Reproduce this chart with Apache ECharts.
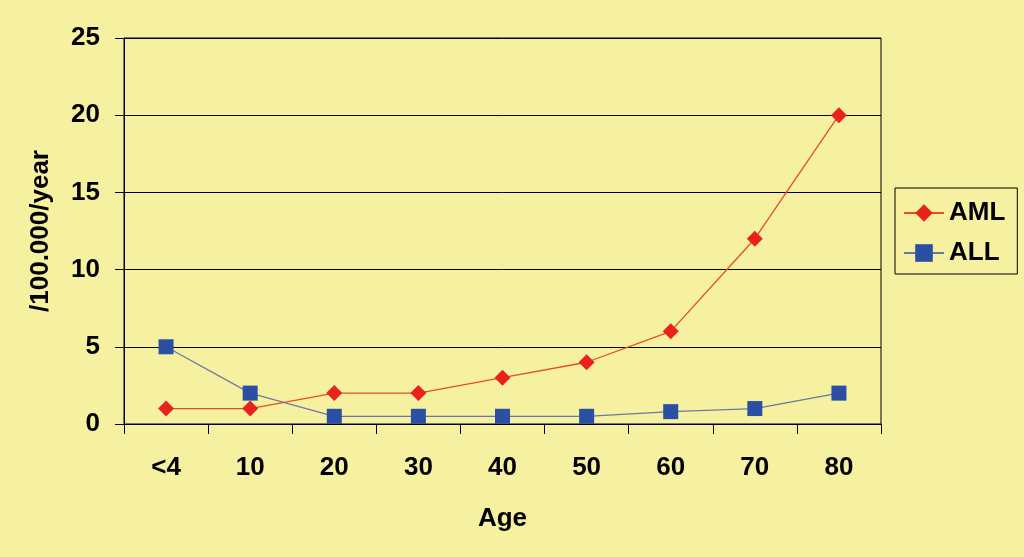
<!DOCTYPE html>
<html><head><meta charset="utf-8">
<script src="https://cdn.jsdelivr.net/npm/echarts@6/dist/echarts.min.js"></script>
<style>html,body{margin:0;padding:0;background:#F6F1A0;}#c{width:1024px;height:557px;}</style>
</head><body><div id="c"></div>
<script>
const categories = ['<4','10','20','30','40','50','60','70','80'];
const amlValues = [1, 1, 2, 2, 3, 4, 6, 12, 20];
const allValues = [5, 2, 0.5, 0.5, 0.5, 0.5, 0.8, 1, 2];
const yTicks = [0, 5, 10, 15, 20, 25];

const font = 'Liberation Sans, Arial, sans-serif';
const fs = 26;
const chart = echarts.init(document.getElementById('c'));
chart.setOption({
  backgroundColor: '#F6F1A0',
  animation: false,
  grid: {left: 124, right: 143, top: 38, bottom: 133, show: true, borderColor: '#000', borderWidth: 1, backgroundColor: 'transparent'},
  legend: {
    orient: 'vertical', left: 895, top: 188,
    padding: [12, 12, 8, 8], itemGap: 14, itemWidth: 40, itemHeight: 22,
    borderColor: '#000', borderWidth: 1,
    textStyle: {fontFamily: font, fontWeight: 'bold', fontSize: fs, color: '#000'},
    data: ['AML', 'ALL']
  },
  xAxis: {
    type: 'category', data: categories, boundaryGap: true,
    name: 'Age', nameLocation: 'middle', nameGap: 82,
    nameTextStyle: {fontFamily: font, fontWeight: 'bold', fontSize: fs, color: '#000'},
    axisLine: {lineStyle: {color: '#000', width: 1}},
    axisTick: {show: true, length: 10, lineStyle: {color: '#000'}},
    axisLabel: {margin: 31, fontFamily: font, fontWeight: 'bold', fontSize: fs, color: '#000'}
  },
  yAxis: {
    type: 'value', min: yTicks[0], max: yTicks[yTicks.length-1], interval: 5,
    name: '/100.000/year', nameLocation: 'middle', nameGap: 70, nameRotate: 90,
    nameTextStyle: {fontFamily: font, fontWeight: 'bold', fontSize: fs, color: '#000'},
    axisLine: {show: true, lineStyle: {color: '#000', width: 1}},
    axisTick: {show: true, length: 9, lineStyle: {color: '#000'}},
    axisLabel: {margin: 24, fontFamily: font, fontWeight: 'bold', fontSize: fs, color: '#000'},
    splitLine: {show: true, lineStyle: {color: '#000', width: 1}}
  },
  series: [
    {name: 'AML', type: 'line', data: amlValues, symbol: 'diamond', symbolSize: 16,
     lineStyle: {color: '#E2501E', width: 1.3}, itemStyle: {color: '#E8231E'}},
    {name: 'ALL', type: 'line', data: allValues, symbol: 'rect', symbolSize: 15,
     lineStyle: {color: '#6A78A8', width: 1.3}, itemStyle: {color: '#2B4FA2'}}
  ]
});
</script></body></html>
